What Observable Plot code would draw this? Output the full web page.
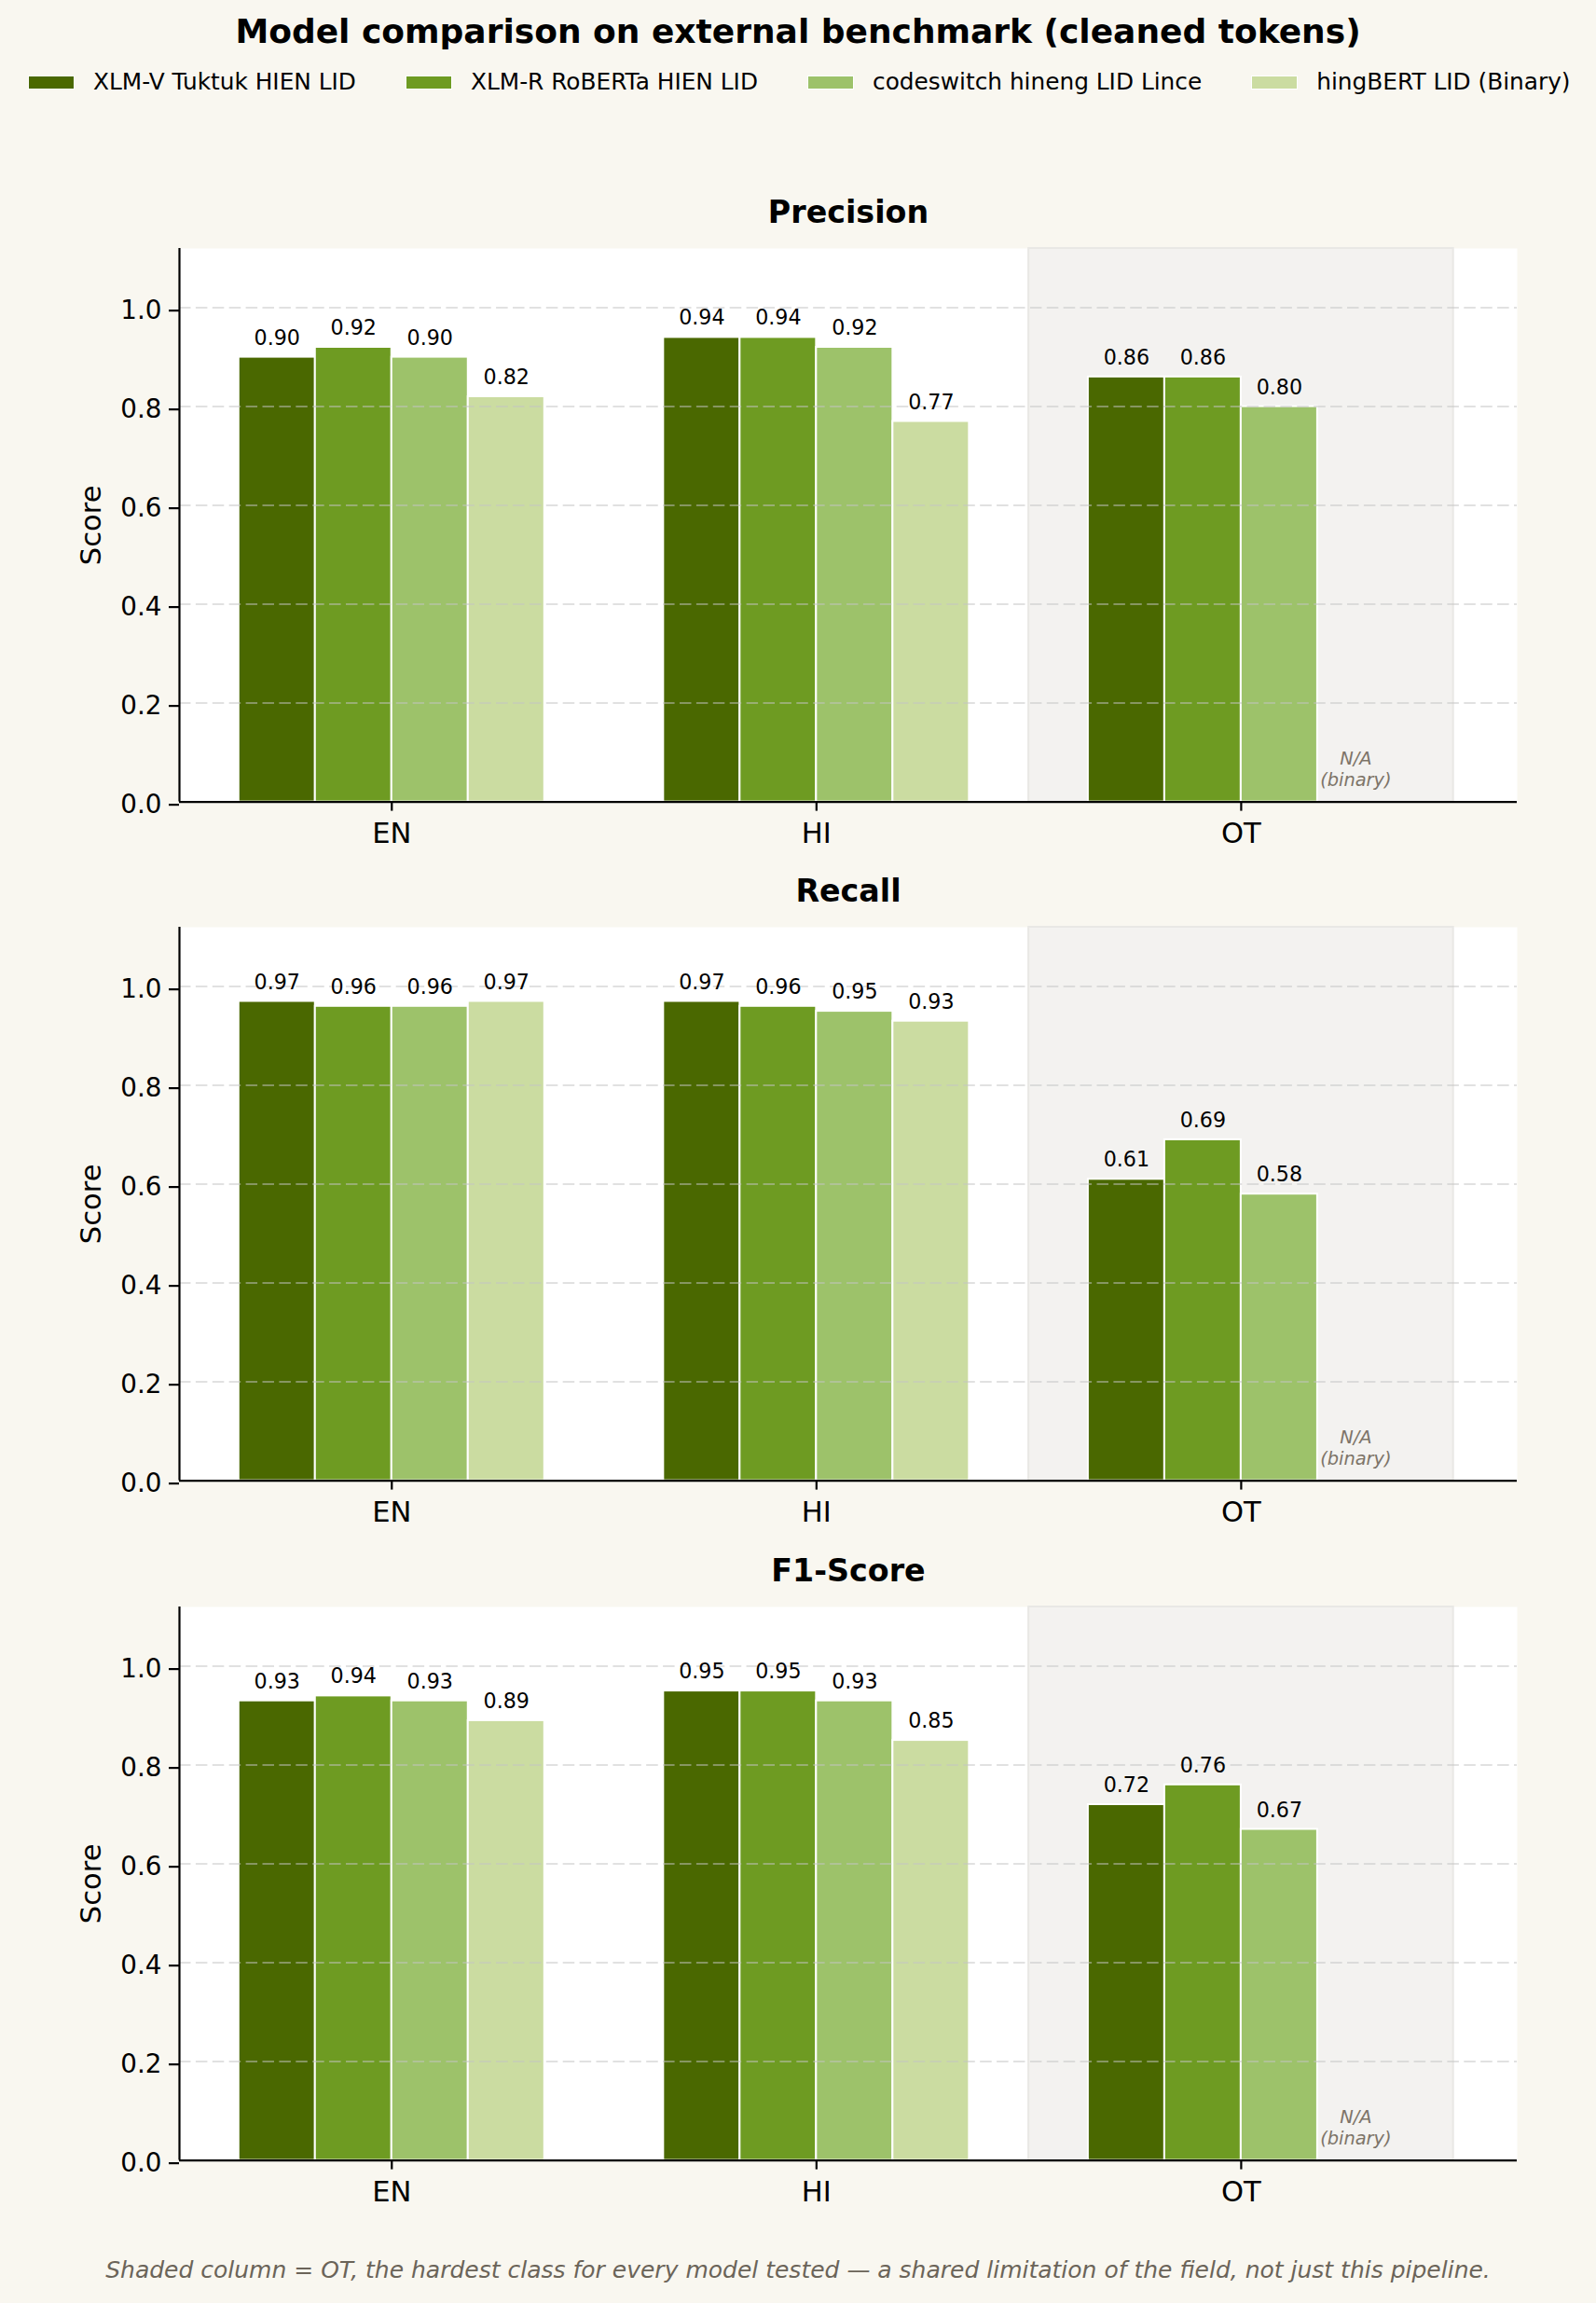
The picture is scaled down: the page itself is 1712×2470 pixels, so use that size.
<!DOCTYPE html>
<html>
<head>
<meta charset="utf-8">
<script src="https://cdn.jsdelivr.net/npm/d3@7"></script>
<script src="https://cdn.jsdelivr.net/npm/@observablehq/plot@0.6"></script>
<style>
  html, body { margin: 0; padding: 0; background: #f9f7f0; }
  #fig { position: relative; width: 1712px; height: 2470px; background: #f9f7f0; font-family: "DejaVu Sans", sans-serif; color: #000; overflow: hidden; }
  #title { position: absolute; left: 0; width: 1712px; top: 15.5px; text-align: center; font-size: 36px; line-height: 1; font-weight: bold; }
  #legend { position: absolute; left: 30px; top: 76px; width: max-content; height: 25px; display: flex; align-items: center; font-size: 24.8px; line-height: 1; white-space: nowrap; }
  .entry { display: flex; align-items: center; flex: 0 0 auto; }
  .entry + .entry { margin-left: 53px; }
  .swatch { flex: 0 0 auto; width: 50px; height: 15px; margin-right: 20px; box-sizing: border-box; border: 1px solid #fff; }
  .panel { position: absolute; left: 0; }
  #caption { position: absolute; left: 0; width: 1712px; top: 2422px; text-align: center; font-size: 25px; line-height: 1; font-style: italic; color: #6b6459; }
</style>
</head>
<body>
<div id="fig">
  <div id="title">Model comparison on external benchmark (cleaned tokens)</div>
  <div id="legend"></div>
  <div id="caption">Shaded column = OT, the hardest class for every model tested — a shared limitation of the field, not just this pipeline.</div>
</div>
<script>
// Token classes on the x axis
const categories = ["EN", "HI", "OT"];

// Models compared (one bar each per class)
const models = [
  "XLM-V Tuktuk HIEN LID",
  "XLM-R RoBERTa HIEN LID",
  "codeswitch hineng LID Lince",
  "hingBERT LID (Binary)"
];
const modelColors = ["#4a6800", "#6e9b22", "#9dc26a", "#cbdca1"];

// Scores: one row per class (EN, HI, OT), one column per model.
// hingBERT is a binary EN/HI tagger, so it has no OT score.
const precision = [
  [0.90, 0.92, 0.90, 0.82],
  [0.94, 0.94, 0.92, 0.77],
  [0.86, 0.86, 0.80, null]
];
const recall = [
  [0.97, 0.96, 0.96, 0.97],
  [0.97, 0.96, 0.95, 0.93],
  [0.61, 0.69, 0.58, null]
];
const f1 = [
  [0.93, 0.94, 0.93, 0.89],
  [0.95, 0.95, 0.93, 0.85],
  [0.72, 0.76, 0.67, null]
];

const metricTitles = ["Precision", "Recall", "F1-Score"];
const metricValues = [precision, recall, f1];
const yTicks = [0, 0.2, 0.4, 0.6, 0.8, 1.0];
const hardClass = "OT";

// Grouped-bar geometry (in x-scale units)
const barWidth = 0.18;
const fmt2 = d3.format(".2f");
const fmt1 = d3.format(".1f");

// Legend
const legend = document.getElementById("legend");
models.forEach((m, j) => {
  const e = document.createElement("div");
  e.className = "entry";
  const sw = document.createElement("div");
  sw.className = "swatch";
  sw.style.background = modelColors[j];
  const t = document.createElement("span");
  t.textContent = m;
  e.append(sw, t);
  legend.append(e);
});

function panel(title, values) {
  const rows = categories.flatMap((c, ci) =>
    models.map((m, mj) => ({cat: c, ci, model: m, mj, value: values[ci][mj]}))
  );
  const bars = rows.filter(d => d.value != null);
  const missing = rows.filter(d => d.value == null);
  const center = d => d.ci + (d.mj - (models.length - 1) / 2) * barWidth;

  return Plot.plot({
    width: 1712,
    height: 728,
    marginLeft: 192,
    marginRight: 85,
    marginTop: 70,
    marginBottom: 64.4,
    x: {type: "linear", domain: [-0.5, 2.65]},
    y: {domain: [0, 1.12]},
    color: {domain: models, range: modelColors},
    style: {background: "transparent", fontFamily: "DejaVu Sans, sans-serif", color: "black", overflow: "visible"},
    marks: [
      Plot.frame({fill: "white", stroke: "none"}),
      // shaded OT column
      Plot.rect([hardClass], {
        x1: c => categories.indexOf(c) - 0.5,
        x2: c => categories.indexOf(c) + 0.5,
        fill: "#f3f2f0",
        stroke: "#e9e8e5",
        strokeWidth: 2
      }),
      Plot.rect(bars, {
        x1: d => center(d) - barWidth / 2,
        x2: d => center(d) + barWidth / 2,
        y1: 0,
        y2: "value",
        fill: "model",
        stroke: "white",
        strokeWidth: 2
      }),
      Plot.gridY({ticks: yTicks, stroke: "#c4c4c4", strokeOpacity: 0.5, strokeWidth: 2, strokeDasharray: "12.5 5.4"}),
      Plot.ruleY([0], {stroke: "black", strokeWidth: 2.2}),
      Plot.ruleX([-0.5], {stroke: "black", strokeWidth: 2.2}),
      Plot.axisY({ticks: yTicks, tickFormat: fmt1, tickSize: 11, tickPadding: 8, fontSize: 27.8, label: null, strokeWidth: 2.2, dy: 3}),
      Plot.axisX({ticks: [0, 1, 2], tickFormat: i => categories[i], tickSize: 10, tickPadding: 12.5, fontSize: 30.6, label: null, strokeWidth: 2.2}),
      Plot.text(bars, {
        x: center,
        y: "value",
        text: d => fmt2(d.value),
        dy: -13.5,
        lineAnchor: "bottom",
        fontSize: 22.2,
        fill: "black"
      }),
      Plot.text(missing, {
        x: center,
        y: 0,
        text: () => "N/A\n(binary)",
        dy: -17.5,
        lineAnchor: "bottom",
        lineHeight: 1.15,
        fontSize: 19.4,
        fontStyle: "italic",
        fill: "#7d7468"
      }),
      Plot.text([title], {frameAnchor: "top", dy: -28, lineAnchor: "bottom", textAnchor: "middle", fontSize: 33.3, fontWeight: "bold", fill: "black"}),
      Plot.text(["Score"], {frameAnchor: "left", dx: -94, rotate: -90, textAnchor: "middle", fontSize: 30.6, fill: "black"})
    ]
  });
}

const fig = document.getElementById("fig");
const axesTop0 = 266;
const panelStep = 728.4;
metricTitles.forEach((t, i) => {
  const svg = panel(t, metricValues[i]);
  const wrap = document.createElement("div");
  wrap.className = "panel";
  wrap.style.top = (axesTop0 - 70 + i * panelStep) + "px";
  wrap.append(svg);
  fig.append(wrap);
});
</script>
</body>
</html>
